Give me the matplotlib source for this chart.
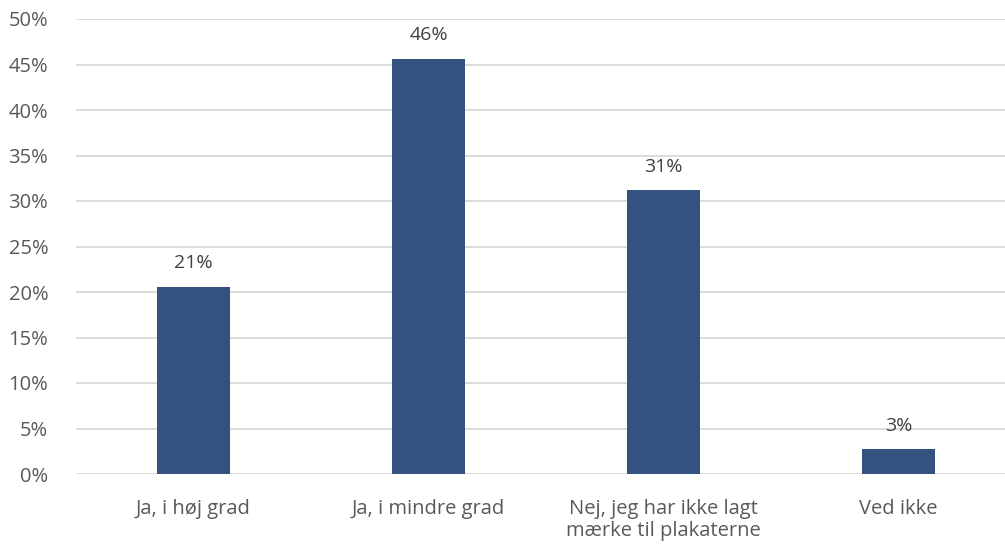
import matplotlib.pyplot as plt
from matplotlib.ticker import PercentFormatter

categories = ['Ja, i høj grad', 'Ja, i mindre grad',
              'Nej, jeg har ikke lagt\nmærke til plakaterne', 'Ved ikke']
values = [20.6, 45.6, 31.2, 2.7]
labels = ['21%', '46%', '31%', '3%']

plt.rcParams['font.family'] = ['Open Sans', 'DejaVu Sans']
grey = '#595959'

fig = plt.figure(figsize=(10.05, 5.46), dpi=100)
ax = fig.add_axes([76 / 1005, 1 - 474 / 546, 1 - 76 / 1005, (474 - 19) / 546])

x = range(len(categories))
bars = ax.bar(x, values, width=0.31, color='#335280', zorder=3)
for b, lab in zip(bars, labels):
    ax.text(b.get_x() + b.get_width() / 2, b.get_height() + 1.6, lab,
            ha='center', va='bottom', fontsize=14, color='#404040')

ax.set_ylim(0, 50)
ax.set_yticks(range(0, 51, 5))
ax.yaxis.set_major_formatter(PercentFormatter(decimals=0))
ax.set_xlim(-0.5, 3.5 - 11 / 235)
ax.set_xticks(list(x))
ax.set_xticklabels(categories, linespacing=1.15)
ax.grid(axis='y', color='#d9d9d9', linewidth=1.3, zorder=0)
for s in ax.spines.values():
    s.set_visible(False)
ax.tick_params(axis='both', length=0, labelsize=14.5, colors=grey)
ax.tick_params(axis='y', pad=20)
ax.tick_params(axis='x', pad=18)

fig.savefig('out.png', dpi=100)
